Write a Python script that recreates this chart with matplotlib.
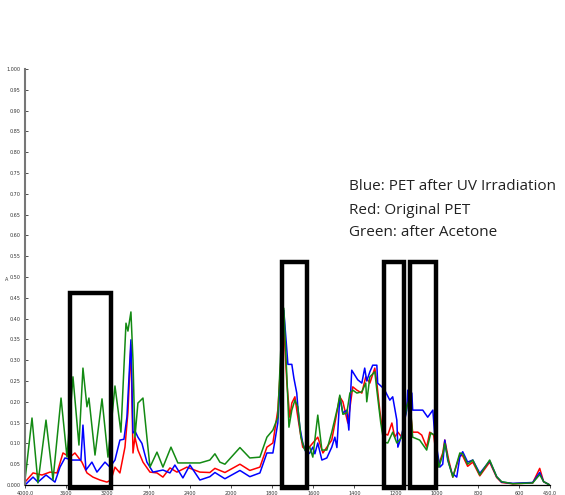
import matplotlib
matplotlib.use("Agg")
import matplotlib.pyplot as plt
import numpy as np
from matplotlib.patches import Rectangle
from matplotlib.ticker import FixedLocator

# data: wavenumber (cm-1), absorbance
green_wn = [4000, 3932, 3874, 3796, 3728, 3650, 3592, 3534, 3476, 3437, 3398, 3379, 3320, 3252,
            3194, 3126, 3068, 3019, 3000, 2971, 2951, 2932, 2903, 2854, 2816, 2786, 2718, 2660,
            2582, 2515, 2301, 2204, 2155, 2107, 2058, 1956, 1908, 1859,
            1825, 1796, 1772, 1752, 1743, 1728, 1718, 1704, 1689, 1675, 1660, 1641, 1617, 1602,
            1578, 1558, 1534, 1510, 1481, 1471, 1456, 1437, 1422, 1408, 1388, 1364, 1345, 1340,
            1325, 1301, 1291, 1272, 1257, 1238, 1214, 1194, 1170, 1146, 1131, 1117, 1083, 1049,
            1029, 1010, 990, 971, 961, 942, 922, 888, 874, 850, 825, 791, 743, 709, 685, 631,
            534, 500, 481, 451]
green_a = [0.012, 0.161, 0.005, 0.156, 0.012, 0.209, 0.067, 0.26, 0.096, 0.281, 0.188, 0.209, 0.072, 0.207,
           0.067, 0.238, 0.127, 0.389, 0.37, 0.416, 0.3, 0.115, 0.197, 0.209, 0.115, 0.043, 0.079, 0.043,
           0.091, 0.053, 0.053, 0.06, 0.075, 0.055, 0.05, 0.09, 0.065, 0.067,
           0.115, 0.132, 0.163, 0.389, 0.425, 0.26, 0.139, 0.18, 0.204, 0.188, 0.115, 0.084, 0.091, 0.067,
           0.168, 0.084, 0.084, 0.127, 0.188, 0.216, 0.17, 0.173, 0.221, 0.228, 0.221, 0.224, 0.245, 0.2,
           0.26, 0.272, 0.228, 0.149, 0.103, 0.101, 0.127, 0.101, 0.115, 0.188, 0.209, 0.115, 0.108, 0.084,
           0.125, 0.12, 0.043, 0.072, 0.1, 0.053, 0.019, 0.077, 0.075, 0.05, 0.06, 0.024, 0.06, 0.02, 0.008, 0.003,
           0.005, 0.025, 0.008, 0.0]

red_wn = [4000, 3922, 3835, 3757, 3689, 3660, 3631, 3563, 3515, 3447, 3398, 3340, 3272, 3204, 3165,
          3126, 3078, 3029, 3000, 2971, 2951, 2932, 2903, 2854, 2786, 2718, 2660, 2592, 2524, 2427,
          2301, 2204, 2155, 2058, 1956, 1908, 1859,
          1825, 1796, 1772, 1757, 1743, 1728, 1714, 1704, 1689, 1680, 1665, 1651, 1631, 1578, 1553,
          1510, 1471, 1456, 1432, 1408, 1388, 1364, 1345, 1325, 1301, 1291, 1277, 1262, 1238, 1218,
          1204, 1189, 1170, 1146, 1136, 1117, 1092, 1073, 1049, 1034, 1015, 995, 971, 961, 942, 922,
          888, 874, 850, 825, 791, 743, 709, 685, 631, 534, 500, 481, 451]
red_a = [0.007, 0.029, 0.024, 0.031, 0.029, 0.053, 0.077, 0.067, 0.077, 0.055, 0.029, 0.019, 0.012, 0.007, 0.012,
         0.043, 0.029, 0.091, 0.175, 0.337, 0.077, 0.115, 0.084, 0.055, 0.031, 0.029, 0.019, 0.041, 0.031, 0.043,
         0.031, 0.03, 0.04, 0.03, 0.05, 0.035, 0.043,
         0.091, 0.101, 0.18, 0.3, 0.38, 0.245, 0.163, 0.197, 0.212, 0.18, 0.132, 0.091, 0.084, 0.115, 0.077,
         0.108, 0.212, 0.2, 0.149, 0.236, 0.228, 0.221, 0.26, 0.245, 0.281, 0.245, 0.18, 0.125, 0.12, 0.149,
         0.115, 0.127, 0.115, 0.188, 0.212, 0.127, 0.127, 0.12, 0.091, 0.127, 0.12, 0.043, 0.077, 0.108, 0.06, 0.019,
         0.072, 0.07, 0.045, 0.055, 0.022, 0.055, 0.018, 0.006, 0.003, 0.005, 0.04, 0.008, 0.0]

blue_wn = [4000, 3922, 3874, 3796, 3709, 3660, 3612, 3544, 3457, 3437, 3408, 3350, 3301, 3223, 3175,
           3126, 3078, 3039, 3010, 2971, 2951, 2932, 2903, 2864, 2816, 2757, 2660, 2592, 2544, 2466,
           2398, 2301, 2204, 2155, 2058, 1956, 1908, 1859,
           1825, 1796, 1772, 1752, 1743, 1723, 1704, 1694, 1680, 1675, 1665, 1651, 1631, 1617, 1602,
           1592, 1578, 1558, 1534, 1510, 1495, 1485, 1471, 1456, 1437, 1427, 1413, 1398, 1384, 1364,
           1350, 1340, 1325, 1311, 1291, 1287, 1267, 1253, 1228, 1214, 1194, 1189, 1170, 1146, 1141,
           1121, 1117, 1097, 1068, 1044, 1019, 1010, 985, 971, 961, 947, 927, 903,
           888, 874, 850, 825, 791, 743, 709, 685, 631, 534, 500, 481, 451]
blue_a = [0.0, 0.019, 0.007, 0.024, 0.007, 0.043, 0.065, 0.06, 0.06, 0.144, 0.036, 0.055, 0.031, 0.055, 0.043,
          0.06, 0.108, 0.11, 0.163, 0.349, 0.125, 0.13, 0.115, 0.1, 0.055, 0.031, 0.036, 0.029, 0.048, 0.017,
          0.048, 0.012, 0.02, 0.03, 0.015, 0.035, 0.02, 0.029,
          0.077, 0.077, 0.149, 0.325, 0.42, 0.29, 0.29, 0.257, 0.221, 0.188, 0.139, 0.101, 0.072, 0.077, 0.091,
          0.075, 0.101, 0.06, 0.065, 0.091, 0.115, 0.09, 0.212, 0.173, 0.18, 0.132, 0.276, 0.264, 0.253, 0.245,
          0.281, 0.25, 0.272, 0.288, 0.288, 0.245, 0.236, 0.228, 0.204, 0.212, 0.156, 0.091, 0.12, 0.18, 0.228,
          0.221, 0.18, 0.18, 0.18, 0.163, 0.18, 0.12, 0.043, 0.05, 0.108, 0.06, 0.029, 0.019,
          0.067, 0.08, 0.055, 0.06, 0.028, 0.058, 0.02, 0.007, 0.004, 0.006, 0.03, 0.008, 0.0]

# highlighted regions (wavenumber from, to, top absorbance)
boxes = [(3565, 3165, 0.462), (1752, 1631, 0.536), (1257, 1160, 0.536), (1131, 1005, 0.536)]

xticks = [4000, 3600, 3200, 2800, 2400, 2000, 1800, 1600, 1400, 1200, 1000, 800, 600, 450]
xlabels = ["4000.0", "3600", "3200", "2800", "2400", "2000", "1800", "1600", "1400", "1200",
           "1000", "800", "600", "450.0"]
yticks = np.round(np.arange(0, 1.0001, 0.05), 2)
ylabels = ["%.3f" % v if v in (0, 1) else "%.2f" % v for v in yticks]

legend_lines = ["Blue: PET after UV Irradiation", "Red: Original PET", "Green: after Acetone"]


# x axis: 4000-2000 at 400/div, below 2000 expanded 2x (200/div)
def fwd(w):
    w = np.asarray(w, dtype=float)
    return np.where(w >= 2000, w, 2 * w - 2000)


def inv(p):
    p = np.asarray(p, dtype=float)
    return np.where(p >= 2000, p, (p + 2000) / 2.0)


fig = plt.figure(figsize=(5.65, 4.95), dpi=100)
ax = fig.add_axes([25 / 565, 10 / 495, 525 / 565, 416 / 495])
ax.set_xscale("function", functions=(fwd, inv))

ax.plot(red_wn, red_a, color="#ff0000", lw=1.1)
ax.plot(blue_wn, blue_a, color="#0000ff", lw=1.1)
ax.plot(green_wn, green_a, color="#138a13", lw=1.1)

for w0, w1, top in boxes:
    ax.add_patch(Rectangle((w0, -0.008), w1 - w0, top + 0.008, fill=False,
                           edgecolor="black", lw=3.2, clip_on=False, zorder=5))

ax.set_xlim(4000, 450)
ax.set_ylim(0, 1.0)
ax.xaxis.set_major_locator(FixedLocator(xticks))
ax.set_xticklabels(xlabels)
ax.set_yticks(yticks)
ax.set_yticklabels(ylabels)
ax.minorticks_off()
ax.tick_params(axis="both", labelsize=3.5, colors="#333333", length=2, width=0.6)
ax.tick_params(axis="y", direction="in", pad=3)
ax.tick_params(axis="x", direction="out", pad=2)

for s in ["top", "right"]:
    ax.spines[s].set_visible(False)
ax.spines["left"].set_color("#777777")
ax.spines["left"].set_linewidth(1.5)
ax.spines["bottom"].set_color("black")
ax.spines["bottom"].set_linewidth(0.9)

ax.text(-0.038, 0.49, "A", transform=ax.transAxes, fontsize=3.5, color="#333333")

for i, line in enumerate(legend_lines):
    fig.text(349 / 565, 1 - (187 + 23 * i) / 495, line, fontsize=11, family="Open Sans",
             color="#222222", va="center", ha="left")

fig.savefig("out.png", dpi=100)
